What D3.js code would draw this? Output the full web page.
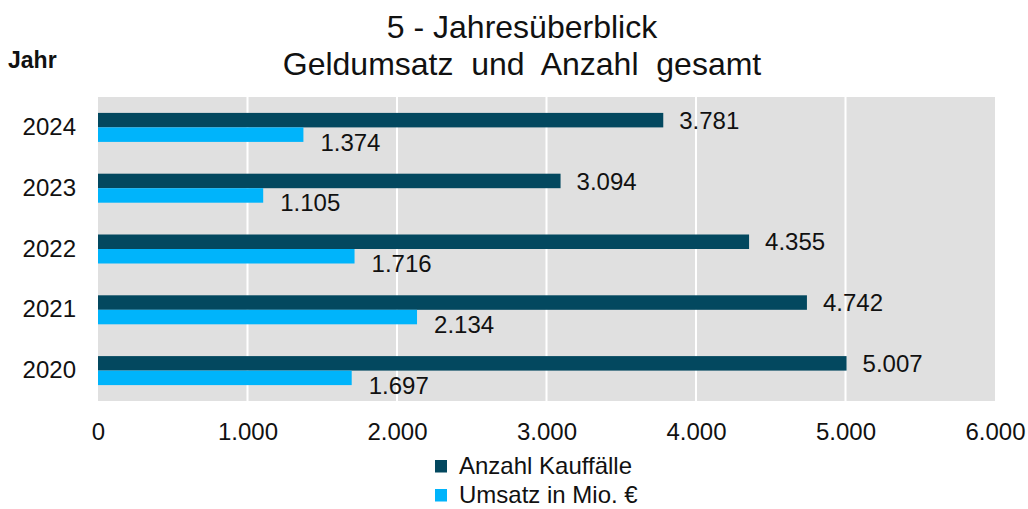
<!DOCTYPE html>
<html>
<head>
<meta charset="utf-8">
<script src="https://cdn.jsdelivr.net/npm/d3@7"></script>
<style>
  body { margin: 0; background: #fff; }
  text { font-family: "Liberation Sans", Arial, sans-serif; fill: #111; }
</style>
</head>
<body>
<div id="chart"></div>
<script>
var years = ["2024", "2023", "2022", "2021", "2020"];
var anzahl = [3781, 3094, 4355, 4742, 5007];
var umsatz = [1374, 1105, 1716, 2134, 1697];
var xTicks = [0, 1000, 2000, 3000, 4000, 5000, 6000];
var seriesNames = ["Anzahl Kauffälle", "Umsatz in Mio. €"];
var colors = ["#03485f", "#00b4fb"];

var W = 1028, H = 509;
var margin = {top: 97, left: 98, right: 33, bottom: 108};
var width = W - margin.left - margin.right,
    height = H - margin.top - margin.bottom;

var fmt = function(v) { return d3.format(",")(v).replace(/,/g, "."); };

var svg = d3.select("#chart").append("svg")
    .attr("width", W).attr("height", H);

// title
svg.append("text").attr("x", 522).attr("y", 38).attr("text-anchor", "middle")
    .style("font-size", "32px").text("5 - Jahresüberblick");
svg.append("text").attr("x", 522).attr("y", 75).attr("text-anchor", "middle")
    .style("font-size", "32px").attr("xml:space", "preserve")
    .text("Geldumsatz  und  Anzahl  gesamt");
svg.append("text").attr("x", 8).attr("y", 68)
    .style("font-size", "23px").style("font-weight", "bold").text("Jahr");

var g = svg.append("g")
    .attr("transform", "translate(" + margin.left + "," + margin.top + ")");

var x = d3.scaleLinear().domain([0, 6000]).range([0, width]);
var y = d3.scaleBand().domain(years).range([0, height]);
var barH = 14.5;

g.append("rect").attr("width", width).attr("height", height).attr("fill", "#e0e0e0");

g.selectAll(".grid").data(xTicks.slice(1, -1)).enter().append("line")
    .attr("x1", d => x(d)).attr("x2", d => x(d))
    .attr("y1", 0).attr("y2", height)
    .attr("stroke", "#fff").attr("stroke-width", 2);

// x axis labels
var xAxis = g.append("g").attr("transform", "translate(0," + height + ")")
    .call(d3.axisBottom(x).tickValues(xTicks).tickFormat(fmt).tickSize(0).tickPadding(22));
xAxis.select(".domain").remove();
xAxis.selectAll("text").style("font-size", "24px").style("font-family", "Liberation Sans, Arial, sans-serif").attr("fill", "#111");

// y axis labels
var yAxis = g.append("g")
    .call(d3.axisLeft(y).tickSize(0).tickPadding(22));
yAxis.select(".domain").remove();
yAxis.selectAll("text").style("font-size", "24px").style("font-family", "Liberation Sans, Arial, sans-serif").attr("fill", "#111");

// bars
var mid = function(i) { return y(years[i]) + y.bandwidth() / 2; };

g.selectAll(".bar1").data(anzahl).enter().append("rect")
    .attr("x", 0).attr("y", (d, i) => mid(i) - barH)
    .attr("width", d => x(d)).attr("height", barH).attr("fill", colors[0]);
g.selectAll(".bar2").data(umsatz).enter().append("rect")
    .attr("x", 0).attr("y", (d, i) => mid(i))
    .attr("width", d => x(d)).attr("height", barH).attr("fill", colors[1]);

// value labels
g.selectAll(".lab1").data(anzahl).enter().append("text")
    .attr("x", d => x(d) + 16).attr("y", (d, i) => mid(i) - barH / 2)
    .attr("dy", "0.36em").style("font-size", "24px").text(fmt);
g.selectAll(".lab2").data(umsatz).enter().append("text")
    .attr("x", d => x(d) + 17).attr("y", (d, i) => mid(i) + 14.5)
    .attr("dy", "0.36em").style("font-size", "24px").text(fmt);

// legend
var leg = svg.append("g").attr("transform", "translate(435,460)");
seriesNames.forEach(function(n, i) {
  leg.append("rect").attr("x", 0).attr("y", i * 29).attr("width", 12).attr("height", 12.5)
      .attr("fill", colors[i]);
  leg.append("text").attr("x", 24).attr("y", i * 29 + 14)
      .style("font-size", "24px").text(n);
});
</script>
</body>
</html>
